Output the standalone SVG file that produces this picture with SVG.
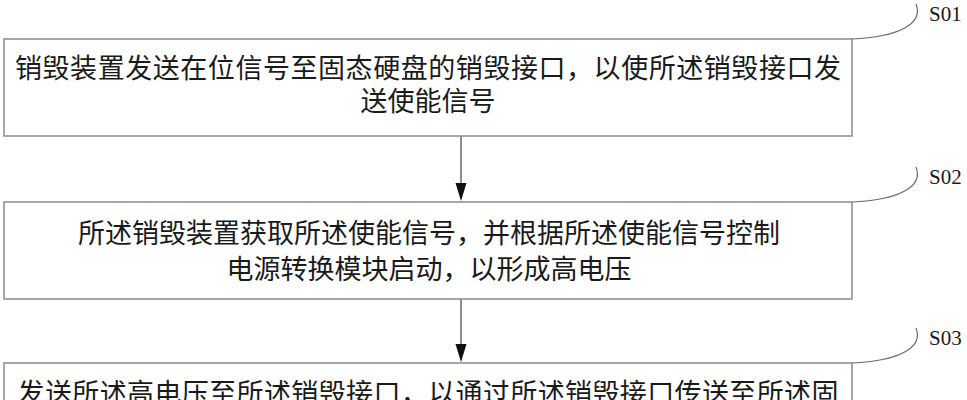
<svg xmlns="http://www.w3.org/2000/svg" width="967" height="400" viewBox="0 0 967 400">
<style>
.box{fill:#fff;stroke:#8a8a8a;stroke-width:1.5}
.t{font-family:"Noto Sans CJK SC","Noto Sans CJK JP",sans-serif;font-size:27px;fill:#1a1a1a;text-anchor:middle}
.lbl{font-family:"Liberation Serif","Times New Roman",serif;font-size:21px;fill:#1a1a1a}
.cv{fill:none;stroke:#6a6a6a;stroke-width:1.2}
.ln{stroke:#6a6a6a;stroke-width:1.5;fill:none}
.ah{fill:#111}
</style>
<rect width="967" height="400" fill="#fff"/>
<g id="connectors">
<line class="ln" x1="461" y1="136" x2="461" y2="184"/>
<path class="ah" d="M455.5,183 L466.5,183 L461,201 Z"/>
<line class="ln" x1="461" y1="299" x2="461" y2="345"/>
<path class="ah" d="M455.5,344 L466.5,344 L461,362 Z"/>
</g>
<g id="S01">
<rect class="box" x="4" y="39" width="848" height="97"/>
<text class="t" x="428" y="78" textLength="826" lengthAdjust="spacing">销毁装置发送在位信号至固态硬盘的销毁接口，以使所述销毁接口发</text>
<text class="t" x="428" y="111">送使能信号</text>
<path class="cv" d="M852,39 C898,37 924,24 916,4"/>
<text class="lbl" x="929" y="21">S01</text>
</g>
<g id="S02">
<rect class="box" x="4" y="202" width="848" height="97"/>
<text class="t" x="429" y="243">所述销毁装置获取所述使能信号，并根据所述使能信号控制</text>
<text class="t" x="429" y="279">电源转换模块启动，以形成高电压</text>
<path class="cv" d="M852,202 C898,200 924,187 916,167"/>
<text class="lbl" x="929" y="184">S02</text>
</g>
<g id="S03">
<rect class="box" x="4" y="363" width="848" height="60"/>
<text class="t" x="428" y="403" textLength="821" lengthAdjust="spacing">发送所述高电压至所述销毁接口，以通过所述销毁接口传送至所述固</text>
<path class="cv" d="M852,363 C898,361 924,348 916,328"/>
<text class="lbl" x="929" y="345">S03</text>
</g>
</svg>
